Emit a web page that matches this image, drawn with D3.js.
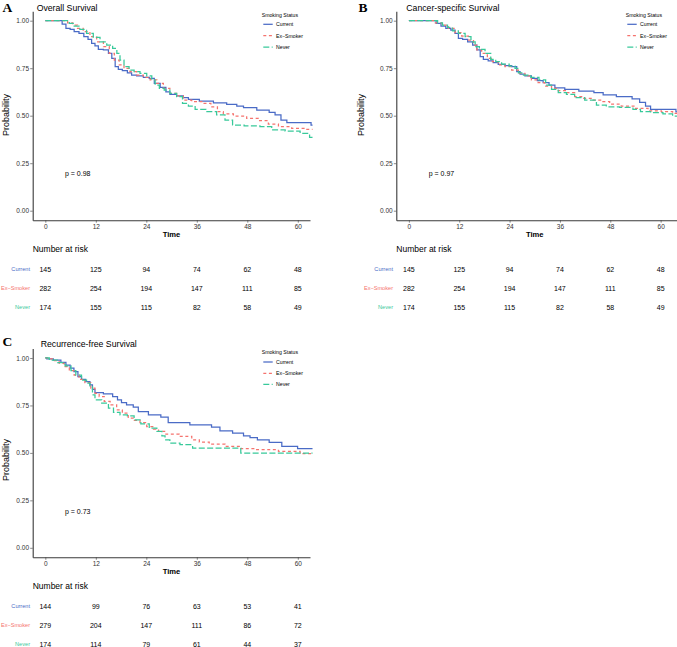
<!DOCTYPE html>
<html>
<head>
<meta charset="utf-8">
<script src="https://cdn.jsdelivr.net/npm/d3@7"></script>
<style>
  html, body { margin: 0; padding: 0; background: #fff; }
  svg { display: block; }
</style>
</head>
<body>
<svg id="chart" width="677" height="647"></svg>
<script>
// ---------------- DATA ----------------
const groups = ["Current", "Ex\u2212Smoker", "Never"];
const groupColors = ["#4a6bc6", "#f5736e", "#38c99a"];
const timeTicks = [0, 12, 24, 36, 48, 60];
const probTicks = [0, 0.25, 0.5, 0.75, 1];
const probTickLabels = ["0.00", "0.25", "0.50", "0.75", "1.00"];

// A: Overall survival  [month, probability]
const osCurrent = [[0,1],[3.7,1],[4.3,0.982],[5.5,0.96],[6.3,0.954],[7.4,0.942],[8.6,0.933],[9.7,0.916],[10.6,0.902],[11.4,0.881],[12.2,0.867],[13.0,0.849],[14.6,0.846],[15.4,0.828],[16.2,0.802],[17.0,0.758],[17.7,0.744],[18.9,0.737],[20.1,0.726],[20.9,0.714],[22.5,0.709],[24.1,0.702],[25.3,0.696],[26.5,0.67],[28.1,0.649],[29.2,0.626],[30.0,0.612],[32.4,0.604],[33.2,0.595],[34.8,0.586],[38.4,0.577],[41.5,0.568],[44.7,0.56],[46.3,0.551],[47.9,0.542],[52.6,0.53],[53.8,0.518],[55.4,0.504],[56.6,0.477],[58.2,0.463],[62.8,0.463],[63.5,0.451]];
const osExSmoker = [[0,1],[4.7,1],[5.9,0.989],[7.1,0.977],[8.2,0.96],[9.8,0.942],[11.4,0.916],[13.0,0.889],[14.6,0.863],[15.8,0.828],[17.0,0.793],[18.1,0.767],[19.3,0.749],[20.9,0.732],[22.5,0.714],[24.1,0.702],[25.7,0.688],[27.3,0.67],[28.8,0.644],[30.4,0.618],[32.0,0.604],[33.6,0.582],[36.0,0.574],[38.4,0.565],[40.3,0.547],[41.5,0.521],[43.1,0.509],[46.3,0.498],[49.4,0.486],[51.8,0.474],[54.2,0.456],[56.6,0.442],[60.5,0.433],[63.5,0.428]];
const osNever = [[0,1],[5.1,1],[6.3,0.986],[7.4,0.972],[9.0,0.954],[10.6,0.933],[12.2,0.912],[13.8,0.889],[15.4,0.872],[16.6,0.854],[17.4,0.828],[18.1,0.793],[19.3,0.758],[20.5,0.74],[21.7,0.732],[23.3,0.723],[24.9,0.709],[25.7,0.688],[26.5,0.661],[27.7,0.644],[28.8,0.635],[30.4,0.618],[32.0,0.6],[33.2,0.565],[34.8,0.551],[36.4,0.533],[39.9,0.521],[41.5,0.504],[43.9,0.477],[45.1,0.451],[49.4,0.446],[52.6,0.442],[55.0,0.425],[59.0,0.419],[62.1,0.407],[63.5,0.386]];
const osRisk = [[145,125,94,74,62,48],[282,254,194,147,111,85],[174,155,115,82,58,49]];

// B: Cancer-specific survival
const cssCurrent = [[0,1],[5.9,1],[7.1,0.986],[8.2,0.972],[9.4,0.96],[10.6,0.951],[11.4,0.933],[12.2,0.907],[13.4,0.902],[14.6,0.889],[15.8,0.872],[16.6,0.846],[17.4,0.811],[18.1,0.796],[19.7,0.788],[20.5,0.779],[22.1,0.77],[23.7,0.763],[25.3,0.758],[26.1,0.732],[26.9,0.719],[28.4,0.709],[30.0,0.696],[31.2,0.684],[32.8,0.674],[34.0,0.661],[35.6,0.647],[38.7,0.639],[42.3,0.63],[45.9,0.621],[46.7,0.609],[52.2,0.6],[54.2,0.588],[55.8,0.57],[57.0,0.551],[58.2,0.533],[63.3,0.533],[64.0,0.52]];
const cssExSmoker = [[0,1],[5.5,1],[7.1,0.989],[8.6,0.977],[10.2,0.96],[11.8,0.937],[13.4,0.919],[15.0,0.898],[15.8,0.872],[16.6,0.846],[18.1,0.828],[19.3,0.802],[20.5,0.784],[22.1,0.767],[23.7,0.758],[25.3,0.74],[26.9,0.723],[28.4,0.709],[30.0,0.688],[31.6,0.674],[33.2,0.656],[34.8,0.644],[36.4,0.632],[38.7,0.621],[40.3,0.6],[42.7,0.591],[45.1,0.582],[46.7,0.574],[49.0,0.561],[52.2,0.551],[55.4,0.539],[58.6,0.526],[61.7,0.521],[64.0,0.512]];
const cssNever = [[0,1],[6.3,1],[7.4,0.989],[8.6,0.977],[9.8,0.965],[11.0,0.947],[12.6,0.933],[14.2,0.916],[15.4,0.889],[16.2,0.863],[17.4,0.849],[18.9,0.828],[20.1,0.796],[21.3,0.784],[22.9,0.772],[24.9,0.761],[25.7,0.749],[26.5,0.726],[28.1,0.714],[30.0,0.702],[32.0,0.688],[33.2,0.661],[34.8,0.639],[36.4,0.621],[38.7,0.612],[40.3,0.595],[43.5,0.582],[45.9,0.556],[48.2,0.547],[52.2,0.544],[54.6,0.533],[55.8,0.521],[59.4,0.516],[61.7,0.509],[64.0,0.498]];
const cssRisk = [[145,125,94,74,62,48],[282,254,194,147,111,85],[174,155,115,82,58,49]];

// C: Recurrence-free survival
const rfsCurrent = [[0,1],[0.7,0.995],[3.1,0.989],[4.3,0.977],[5.5,0.963],[6.3,0.946],[7.3,0.928],[8.2,0.902],[9.0,0.888],[10.2,0.876],[11.0,0.858],[11.4,0.835],[12.2,0.818],[15.4,0.811],[16.6,0.797],[17.7,0.779],[18.5,0.765],[20.1,0.753],[21.7,0.741],[22.5,0.718],[26.5,0.7],[28.4,0.688],[30.0,0.66],[38.7,0.648],[40.3,0.636],[42.7,0.616],[46.3,0.604],[47.9,0.59],[49.4,0.581],[51.4,0.569],[55.0,0.555],[57.4,0.534],[62.5,0.522],[63.5,0.522]];
const rfsExSmoker = [[0,1],[1.1,0.995],[2.7,0.986],[3.9,0.972],[5.1,0.954],[6.3,0.933],[7.4,0.91],[8.6,0.888],[10.2,0.87],[11.4,0.841],[12.2,0.814],[13.4,0.797],[14.6,0.771],[16.2,0.753],[17.7,0.727],[18.9,0.709],[20.5,0.683],[21.7,0.671],[23.3,0.66],[24.9,0.639],[26.5,0.625],[27.3,0.613],[30.0,0.599],[33.6,0.587],[36.0,0.569],[37.2,0.557],[40.7,0.546],[44.7,0.534],[47.9,0.522],[51.8,0.517],[59.0,0.508],[62.1,0.496],[63.5,0.496]];
const rfsNever = [[0,1],[1.9,0.989],[3.9,0.975],[5.5,0.958],[6.7,0.933],[7.8,0.91],[9.4,0.884],[10.2,0.867],[11.0,0.849],[11.4,0.806],[12.2,0.779],[14.6,0.762],[15.4,0.736],[17.0,0.713],[18.5,0.7],[20.5,0.695],[21.7,0.674],[23.7,0.653],[25.7,0.63],[27.3,0.613],[28.1,0.59],[28.8,0.569],[30.4,0.552],[33.6,0.543],[36.4,0.525],[45.0,0.525],[47.9,0.499],[63.5,0.499]];
const rfsRisk = [[144,99,76,63,53,41],[279,204,147,111,86,72],[174,114,79,61,44,37]];

// ---------------- DRAWING ----------------
const svg = d3.select("#chart");
const dashes = [null, "3,2.6", "6,2.4"];
const SANS = "'Liberation Sans', Arial, Helvetica, sans-serif";

function drawPanel(o) {
  const g = svg.append("g");
  const x = d3.scaleLinear().domain([-3, o.tMax]).range([o.axisX, o.rightX]);
  const y = d3.scaleLinear().domain([-0.05, 1.05]).range([o.yBottom, o.yTop]);

  // panel letter and title
  g.append("text").attr("x", o.letterX).attr("y", o.letterY)
    .attr("font-family", "'Liberation Serif', 'Times New Roman', serif")
    .attr("font-weight", "bold").attr("font-size", 13.5).text(o.letter);
  g.append("text").attr("x", o.titleX).attr("y", o.titleY)
    .attr("font-family", SANS).attr("font-size", 8.7).text(o.title);

  // curves
  const line = d3.line().x(d => x(d[0])).y(d => y(d[1])).curve(d3.curveStep);
  o.series.forEach((s, i) => {
    g.append("path").datum(s).attr("d", line)
      .attr("fill", "none").attr("stroke", groupColors[i])
      .attr("stroke-width", 1.25)
      .attr("stroke-dasharray", dashes[i]);
  });

  // axes
  const xAxis = d3.axisBottom(x).tickValues(timeTicks).tickSizeOuter(0).tickSizeInner(2.5).tickPadding(1.3);
  const yAxis = d3.axisLeft(y).tickValues(probTicks).tickFormat((d, i) => probTickLabels[i])
    .tickSizeOuter(0).tickSizeInner(2.5).tickPadding(1.2);
  const gx = g.append("g").attr("transform", `translate(0,${o.yBottom})`).call(xAxis);
  const gy = g.append("g").attr("transform", `translate(${o.axisX},0)`).call(yAxis);
  [gx, gy].forEach(a => {
    a.select(".domain").attr("stroke", "#3a3a3a").attr("stroke-width", 1.1);
    a.selectAll(".tick line").attr("stroke", "#3a3a3a").attr("stroke-width", 0.6);
    a.selectAll(".tick text").attr("font-family", SANS).attr("font-size", 6.5).attr("fill", "#333");
  });

  // axis titles
  g.append("text").attr("x", x(30)).attr("y", o.timeY).attr("text-anchor", "middle")
    .attr("font-family", SANS).attr("font-weight", "bold").attr("font-size", 7.6).text("Time");
  g.append("text").attr("transform", `translate(${o.probX},${o.probY}) rotate(-90)`)
    .attr("text-anchor", "middle").attr("dominant-baseline", "central")
    .attr("font-family", SANS).attr("font-size", 9).text("Probability");

  // p-value
  g.append("text").attr("x", o.pX).attr("y", o.pY).attr("dominant-baseline", "central")
    .attr("font-family", SANS).attr("font-size", 7).text(o.pText);

  // legend
  g.append("text").attr("x", o.legX).attr("y", o.legTitleY).attr("dominant-baseline", "central")
    .attr("font-family", SANS).attr("font-size", 5.2).text("Smoking Status");
  groups.forEach((name, i) => {
    const ly = o.legItemY[i];
    g.append("line").attr("x1", o.legX + 1.6).attr("x2", o.legX + 11).attr("y1", ly).attr("y2", ly)
      .attr("stroke", groupColors[i]).attr("stroke-width", 1.25).attr("stroke-dasharray", dashes[i]);
    g.append("text").attr("x", o.legX + 14.3).attr("y", ly).attr("dominant-baseline", "central")
      .attr("font-family", SANS).attr("font-size", 5.2).text(name);
  });

  // number at risk table
  g.append("text").attr("x", o.axisX).attr("y", o.narY).attr("dominant-baseline", "central")
    .attr("font-family", SANS).attr("font-size", 8.5).text("Number at risk");
  groups.forEach((name, i) => {
    const ry = o.rowY[i];
    g.append("text").attr("x", o.rowLabelX).attr("y", ry).attr("text-anchor", "end")
      .attr("dominant-baseline", "central").attr("font-family", SANS).attr("font-size", 5.6)
      .attr("fill", groupColors[i]).text(name);
    o.risk[i].forEach((v, j) => {
      g.append("text").attr("x", x(timeTicks[j])).attr("y", ry).attr("text-anchor", "middle")
        .attr("dominant-baseline", "central").attr("font-family", SANS).attr("font-size", 7)
        .text(v);
    });
  });
}

drawPanel({
  letter: "A", letterX: 2.5, letterY: 11.5, title: "Overall Survival", titleX: 36.7, titleY: 10.8,
  axisX: 32.7, rightX: 310, tMax: 62.9, yTop: 11.2, yBottom: 220.2,
  series: [osCurrent, osExSmoker, osNever], risk: osRisk,
  timeY: 237, probX: 6, probY: 115, pX: 65, pY: 173, pText: "p = 0.98",
  legX: 261.7, legTitleY: 15, legItemY: [24.3, 35.7, 47],
  narY: 249.3, rowY: [269, 288.3, 307.3], rowLabelX: 30
});
drawPanel({
  letter: "B", letterX: 358.5, letterY: 11.5, title: "Cancer-specific Survival", titleX: 406.3, titleY: 10.8,
  axisX: 396.3, rightX: 677, tMax: 63.9, yTop: 11.2, yBottom: 220.2,
  series: [cssCurrent, cssExSmoker, cssNever], risk: cssRisk,
  timeY: 237, probX: 360.5, probY: 115, pX: 428.7, pY: 173, pText: "p = 0.97",
  legX: 625.7, legTitleY: 15, legItemY: [24.3, 35.7, 47],
  narY: 249.3, rowY: [269, 288.3, 307.3], rowLabelX: 393
});
drawPanel({
  letter: "C", letterX: 2.5, letterY: 345.5, title: "Recurrence-free Survival", titleX: 40.7, titleY: 347.3,
  axisX: 32.7, rightX: 310, tMax: 62.9, yTop: 348.5, yBottom: 557.3,
  series: [rfsCurrent, rfsExSmoker, rfsNever], risk: rfsRisk,
  timeY: 574, probX: 6, probY: 460, pX: 65, pY: 511, pText: "p = 0.73",
  legX: 261.7, legTitleY: 352, legItemY: [362, 373.3, 384.3],
  narY: 586, rowY: [606, 625.3, 644.3], rowLabelX: 30
});
</script>
</body>
</html>
